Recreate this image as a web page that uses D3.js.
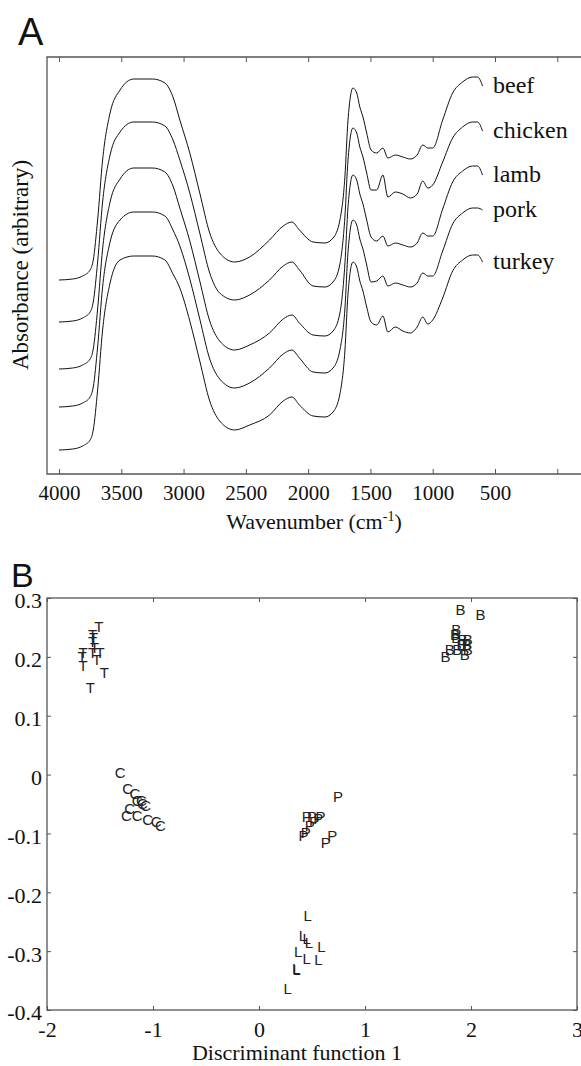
<!DOCTYPE html>
<html>
<head>
<meta charset="utf-8">
<script src="https://cdn.jsdelivr.net/npm/d3@7"></script>
<style>
  body { margin: 0; background: #fff; }
  svg { display: block; }
  svg .tick text { font-family: "Liberation Serif", "Times New Roman", serif !important; }
</style>
</head>
<body>
<div id="chart"></div>
<script>
// Panel A data: FTIR spectra, offset for display
const wavenumbers = [4000, 3890, 3810, 3750, 3725, 3690, 3650, 3590, 3510, 3400,
  3250, 3150, 3085, 3030, 2950, 2870, 2790, 2710, 2590, 2470,
  2310, 2200, 2130, 2070, 1960, 1865, 1800, 1745, 1705, 1680,
  1640, 1610, 1585, 1560, 1530, 1495, 1450, 1400, 1360, 1300,
  1240, 1180, 1125, 1080, 1040, 1000, 920, 840, 760, 680, 640, 600];

const beef = [1.94, 1.95, 1.98, 2.04, 2.14, 2.54, 3.14, 3.61, 3.84, 3.95,
  3.95, 3.91, 3.77, 3.54, 3.21, 2.81, 2.41, 2.21, 2.12, 2.17,
  2.34, 2.48, 2.52, 2.44, 2.32, 2.31, 2.36, 2.54, 2.97, 3.54,
  3.86, 3.81, 3.67, 3.57, 3.41, 3.24, 3.21, 3.26, 3.16, 3.19,
  3.17, 3.15, 3.19, 3.29, 3.26, 3.26, 3.54, 3.81, 3.92, 3.97, 3.97, 3.88];
const chicken = [1.52, 1.53, 1.56, 1.62, 1.72, 2.12, 2.72, 3.19, 3.42, 3.52,
  3.52, 3.48, 3.34, 3.14, 2.81, 2.41, 2.01, 1.81, 1.74, 1.79,
  1.94, 2.08, 2.12, 2.04, 1.88, 1.87, 1.92, 2.10, 2.57, 3.14,
  3.46, 3.41, 3.27, 3.17, 3.01, 2.84, 2.84, 2.99, 2.77, 2.82,
  2.80, 2.76, 2.80, 2.93, 2.86, 2.89, 3.12, 3.36, 3.47, 3.52, 3.52, 3.43];
const lamb = [1.05, 1.06, 1.09, 1.15, 1.25, 1.65, 2.25, 2.72, 2.95, 3.06,
  3.06, 3.02, 2.88, 2.66, 2.33, 1.93, 1.53, 1.33, 1.24, 1.29,
  1.41, 1.55, 1.59, 1.51, 1.39, 1.38, 1.43, 1.61, 2.10, 2.67,
  2.99, 2.94, 2.80, 2.70, 2.54, 2.37, 2.33, 2.38, 2.28, 2.31,
  2.29, 2.27, 2.31, 2.41, 2.38, 2.38, 2.65, 2.92, 3.03, 3.08, 3.08, 2.99];
const pork = [0.67, 0.68, 0.71, 0.77, 0.87, 1.27, 1.87, 2.32, 2.54, 2.62,
  2.62, 2.58, 2.44, 2.28, 1.95, 1.55, 1.15, 0.95, 0.86, 0.91,
  1.06, 1.20, 1.24, 1.16, 1.02, 1.01, 1.06, 1.24, 1.65, 2.22,
  2.54, 2.49, 2.35, 2.25, 2.09, 1.92, 1.93, 1.98, 1.88, 1.91,
  1.89, 1.87, 1.91, 2.01, 1.98, 1.98, 2.23, 2.50, 2.61, 2.66, 2.66, 2.64];
const turkey = [0.24, 0.25, 0.28, 0.34, 0.44, 0.84, 1.44, 1.91, 2.14, 2.18,
  2.18, 2.14, 2.00, 1.86, 1.53, 1.13, 0.73, 0.53, 0.44, 0.49,
  0.59, 0.73, 0.77, 0.69, 0.58, 0.57, 0.62, 0.80, 1.23, 1.80,
  2.12, 2.07, 1.93, 1.83, 1.67, 1.52, 1.49, 1.58, 1.42, 1.47,
  1.43, 1.41, 1.47, 1.57, 1.50, 1.54, 1.76, 2.03, 2.14, 2.19, 2.19, 2.12];

const spectraNames = ["beef", "chicken", "lamb", "pork", "turkey"];
const spectraValues = [beef, chicken, lamb, pork, turkey];
const wnTicks = [4000, 3500, 3000, 2500, 2000, 1500, 1000, 500, 0, -500];

// Panel B data: discriminant scores (function 1, function 2)
const groupLetters = ["T", "C", "P", "L", "B"];
const turkeyScores = [[-1.51, 0.251], [-1.57, 0.237], [-1.56, 0.232], [-1.57, 0.226],
  [-1.66, 0.207], [-1.57, 0.208], [-1.50, 0.208], [-1.67, 0.200], [-1.53, 0.195],
  [-1.66, 0.185], [-1.46, 0.174], [-1.59, 0.147], [-1.55, 0.215]];
const chickenScores = [[-1.31, 0.003], [-1.24, -0.024], [-1.17, -0.032], [-1.11, -0.045],
  [-1.15, -0.045], [-1.22, -0.057], [-1.07, -0.053], [-1.25, -0.070], [-1.15, -0.070],
  [-1.05, -0.077], [-0.97, -0.080], [-0.93, -0.087], [-1.10, -0.050]];
const porkScores = [[0.745, -0.038], [0.45, -0.072], [0.50, -0.072], [0.56, -0.074],
  [0.58, -0.072], [0.48, -0.086], [0.52, -0.080], [0.42, -0.103], [0.44, -0.098],
  [0.69, -0.103], [0.63, -0.115]];
const lambScores = [[0.46, -0.239], [0.415, -0.273], [0.45, -0.278], [0.47, -0.286],
  [0.59, -0.293], [0.37, -0.301], [0.45, -0.312], [0.56, -0.315], [0.35, -0.329],
  [0.355, -0.331], [0.27, -0.363]];
const beefScores = [[1.90, 0.280], [2.09, 0.271], [1.86, 0.246], [1.85, 0.237],
  [1.86, 0.232], [1.92, 0.229], [1.97, 0.229], [1.96, 0.220], [1.91, 0.220],
  [1.80, 0.212], [1.87, 0.212], [1.97, 0.212], [1.76, 0.200], [1.94, 0.203]];
const groupScores = [turkeyScores, chickenScores, porkScores, lambScores, beefScores];
const dfXTicks = [-2, -1, 0, 1, 2, 3];
const dfYTicks = [0.3, 0.2, 0.1, 0, -0.1, -0.2, -0.3, -0.4];

const width = 581, height = 1066;
const serif = "Liberation Serif";
const sans = "Liberation Sans";
const axisColor = "#555";

const svg = d3.select("#chart").append("svg")
  .attr("width", width)
  .attr("height", height);

// axis groups: drop d3's default font so the serif applies
function styleAxis(g, size) {
  g.attr("font-family", serif).attr("font-size", size);
  g.select(".domain").remove();
  g.selectAll("line").attr("stroke", axisColor);
  g.selectAll("text").attr("fill", "#111")
    .attr("font-family", serif).style("font-size", size + "px");
}

// ---------- Panel A ----------
const xA = d3.scaleLinear().domain([4000, 500]).range([59, 495]);
const yA = d3.scaleLinear().domain([0, 4.17]).range([474, 57]);
const leftA = 47, topA = 57, bottomA = 474;

svg.append("text")
  .attr("x", 18).attr("y", 45)
  .attr("font-family", sans)
  .attr("font-size", 38)
  .attr("fill", "#111")
  .text("A");

const gA = svg.append("g");

// tick marks top and bottom, pointing in
gA.append("g")
  .attr("transform", `translate(0,${bottomA})`)
  .call(d3.axisBottom(xA).tickValues(wnTicks).tickSize(-5).tickPadding(11)
    .tickFormat(d => d > 0 ? d : ""))
  .call(styleAxis, 21);

gA.append("g")
  .attr("transform", `translate(0,${topA})`)
  .call(d3.axisTop(xA).tickValues(wnTicks).tickSize(-5).tickFormat(""))
  .call(styleAxis, 21);

gA.append("path")
  .attr("d", `M${width + 5},${topA}H${leftA}V${bottomA}H${width + 5}`)
  .attr("fill", "none")
  .attr("stroke", axisColor)
  .attr("stroke-width", 1.3);

const lineA = d3.line()
  .x((d, i) => xA(wavenumbers[i]))
  .y(d => yA(d))
  .curve(d3.curveMonotoneX);

gA.selectAll("path.spectrum")
  .data(spectraValues)
  .join("path")
  .attr("class", "spectrum")
  .attr("d", lineA)
  .attr("fill", "none")
  .attr("stroke", "#111")
  .attr("stroke-width", 1);

gA.selectAll("text.name")
  .data(spectraNames)
  .join("text")
  .attr("class", "name")
  .attr("x", 493)
  .attr("y", (d, i) => yA(spectraValues[i][spectraValues[i].length - 1]) + 7)
  .attr("font-family", serif)
  .attr("font-size", 24)
  .attr("fill", "#111")
  .text(d => d);

svg.append("text")
  .attr("transform", "translate(28,265) rotate(-90)")
  .attr("text-anchor", "middle")
  .attr("font-family", serif)
  .attr("font-size", 23)
  .attr("fill", "#111")
  .text("Absorbance (arbitrary)");

const wnLabel = svg.append("text")
  .attr("x", 314).attr("y", 529)
  .attr("text-anchor", "middle")
  .attr("font-family", serif)
  .attr("font-size", 22)
  .attr("fill", "#111");
wnLabel.append("tspan").text("Wavenumber (cm");
wnLabel.append("tspan").attr("dy", -8).attr("font-size", 14).text("-1");
wnLabel.append("tspan").attr("dy", 8).text(")");

// ---------- Panel B ----------
const xB = d3.scaleLinear().domain([-2, 3]).range([47, 577]);
const yB = d3.scaleLinear().domain([-0.4, 0.3]).range([1010, 598]);

svg.append("text")
  .attr("x", 11).attr("y", 587)
  .attr("font-family", sans)
  .attr("font-size", 34)
  .attr("fill", "#111")
  .text("B");

const gB = svg.append("g");

gB.append("g")
  .attr("transform", `translate(0,${yB(-0.4)})`)
  .call(d3.axisBottom(xB).tickValues(dfXTicks).tickSize(-4).tickPadding(11)
    .tickFormat(d => String(d)))
  .call(styleAxis, 22);

gB.append("g")
  .attr("transform", `translate(0,${yB(0.3)})`)
  .call(d3.axisTop(xB).tickValues(dfXTicks).tickSize(-4).tickFormat(""))
  .call(styleAxis, 22);

gB.append("g")
  .attr("transform", `translate(${xB(-2)},0)`)
  .call(d3.axisLeft(yB).tickValues(dfYTicks).tickSize(-4).tickPadding(5)
    .tickFormat(d => String(d)))
  .call(styleAxis, 22)
  .call(g => g.selectAll("text").attr("dy", "0.45em"));

gB.append("g")
  .attr("transform", `translate(${xB(3)},0)`)
  .call(d3.axisRight(yB).tickValues(dfYTicks).tickSize(-4).tickFormat(""))
  .call(styleAxis, 22);

gB.append("rect")
  .attr("x", xB(-2)).attr("y", yB(0.3))
  .attr("width", xB(3) - xB(-2))
  .attr("height", yB(-0.4) - yB(0.3))
  .attr("fill", "none")
  .attr("stroke", axisColor)
  .attr("stroke-width", 1.3);

groupScores.forEach((pts, gi) => {
  gB.append("g")
    .selectAll("text")
    .data(pts)
    .join("text")
    .attr("x", d => xB(d[0]))
    .attr("y", d => yB(d[1]))
    .attr("text-anchor", "middle")
    .attr("dy", "0.36em")
    .attr("font-family", sans)
    .attr("font-size", 15)
    .attr("fill", "#222")
    .text(groupLetters[gi]);
});

svg.append("text")
  .attr("x", 297).attr("y", 1060)
  .attr("text-anchor", "middle")
  .attr("font-family", serif)
  .attr("font-size", 22)
  .attr("fill", "#111")
  .text("Discriminant function 1");
</script>
</body>
</html>
